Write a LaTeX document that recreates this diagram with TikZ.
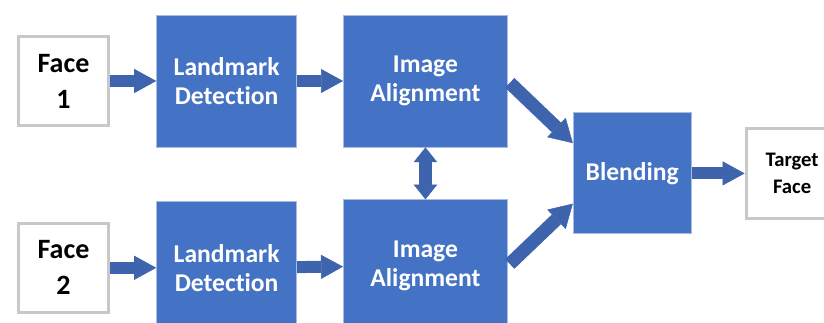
\documentclass[tikz,border=0pt]{standalone}
\usepackage{fontspec}
\setmainfont{Carlito}[Ligatures=NoCommon]
\usetikzlibrary{positioning,arrows.meta,calc}

\definecolor{boxblue}{HTML}{4472C4}
\definecolor{boxedge}{HTML}{A9BCDF}
\definecolor{arrowblue}{HTML}{3D64AD}
\definecolor{facegray}{HTML}{C8C8C8}

\begin{document}
\begin{tikzpicture}[x=0.75pt,y=-0.75pt,
  face box/.style={rectangle,draw=facegray,line width=2.6pt,fill=white,
    minimum width=67.5pt,minimum height=66.75pt,align=center,inner sep=0pt,
    font=\bfseries\fontsize{21}{27}\selectfont},
  main node/.style={rectangle,draw=boxedge,line width=0.6pt,fill=boxblue,text=white,
    minimum width=105pt,minimum height=99pt,align=center,inner sep=0pt,
    font=\bfseries\fontsize{19.2}{22}\selectfont},
  wide node/.style={main node,minimum width=123pt},
  block arrow/.style={draw=arrowblue,line width=9pt,
    -{Triangle[width=18pt,length=16.5pt,line width=0.4pt]}},
  slant arrow/.style={draw=arrowblue,line width=10pt,shorten <=2pt,
    -{Triangle[width=20pt,length=17pt,line width=0.4pt]}},
  both arrow/.style={draw=arrowblue,line width=9.75pt,
    {Triangle[width=17.5pt,length=11pt,line width=0.4pt]}-{Triangle[width=17.5pt,length=11pt,line width=0.4pt]}}]

  \useasboundingbox (0,0) rectangle (824,323);

  % upper row
  \node[face box] (f1) at (63.5,81) {Face\\1};
  \node[main node] (ld1) [right=34.5pt of f1] {Landmark\\Detection};
  \node[wide node] (ia1) [right=34.5pt of ld1] {Image\\Alignment};

  % lower row
  \node[main node] (ld2) [below=40.5pt of ld1] {Landmark\\Detection};
  \node[wide node] (ia2) [below=39pt of ia1] {Image\\Alignment};
  \node[face box] (f2) [left=34.5pt of ld2] {Face\\2};

  % merge and result
  \node[main node,minimum width=88.5pt,minimum height=90.75pt,anchor=west] (blend)
    at ($(ia1.east)!.5!(ia2.east)+(65,0)$) {Blending};
  \node[face box,line width=2.2pt,minimum width=69pt,minimum height=67pt,
    font=\bfseries\fontsize{15.5}{20}\selectfont] (target) [right=39.75pt of blend] {Target\\Face};

  \draw[block arrow] (f1) -- (ld1);
  \draw[block arrow] (ld1) -- (ia1);
  \draw[block arrow] (f2) -- (ld2);
  \draw[block arrow] (ld2) -- (ia2);
  \draw[both arrow] (ia1) -- (ia2);
  \draw[slant arrow] (ia1.east) -- (blend.153);
  \draw[slant arrow] (ia2.east) -- (blend.207);
  \draw[block arrow] (blend) -- (target);
\end{tikzpicture}
\end{document}
